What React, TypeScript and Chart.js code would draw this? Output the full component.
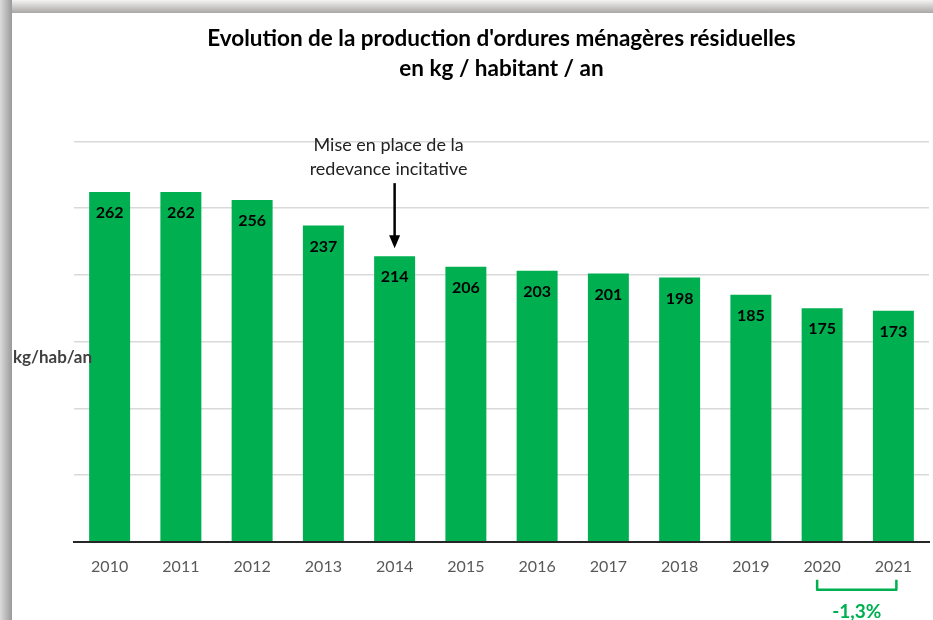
import React, { useEffect, useRef } from "react";
import { Chart, registerables } from "chart.js";

Chart.register(...registerables);

const years = ["2010", "2011", "2012", "2013", "2014", "2015", "2016", "2017", "2018", "2019", "2020", "2021"];
const values = [262, 262, 256, 237, 214, 206, 203, 201, 198, 185, 175, 173];
const titleLines = ["Evolution de la production d'ordures ménagères résiduelles", "en kg / habitant / an"];
const yTitle = "kg/hab/an";
const annotationLines = ["Mise en place de la", "redevance incitative"];
const annotationYear = "2014";
const changeFrom = "2020";
const changeTo = "2021";
const changeLabel = "-1,3%";

const GREEN = "#00b050";
const FONT = "Lato, 'Open Sans', sans-serif";

const overlayPlugin = {
  id: "overlay",
  afterDatasetsDraw(chart: any) {
    const ctx = chart.ctx;
    const meta = chart.getDatasetMeta(0);
    const area = chart.chartArea;
    ctx.save();
    // value labels
    ctx.fillStyle = "#000";
    ctx.font = `bold 16px ${FONT}`;
    ctx.textAlign = "center";
    ctx.textBaseline = "middle";
    meta.data.forEach((bar: any, i: number) => {
      ctx.fillText(String(values[i]), bar.x, bar.y + 21);
    });

    // y title
    ctx.fillStyle = "#404040";
    ctx.font = `bold 17px ${FONT}`;
    ctx.textAlign = "left";
    ctx.fillText(yTitle, 1, area.top + 216);

    // annotation
    const ai = years.indexOf(annotationYear);
    const ab = meta.data[ai];
    const tipY = ab.y - 8;
    const startY = tipY - 65;
    ctx.strokeStyle = "#000";
    ctx.fillStyle = "#000";
    ctx.lineWidth = 2.5;
    ctx.beginPath();
    ctx.moveTo(ab.x, startY);
    ctx.lineTo(ab.x, tipY - 10);
    ctx.stroke();
    ctx.beginPath();
    ctx.moveTo(ab.x - 5.5, tipY - 13);
    ctx.lineTo(ab.x + 5.5, tipY - 13);
    ctx.lineTo(ab.x, tipY);
    ctx.closePath();
    ctx.fill();
    ctx.fillStyle = "#222";
    ctx.font = `18px ${FONT}`;
    ctx.textAlign = "center";
    ctx.fillText(annotationLines[1], ab.x - 6, startY - 14);
    ctx.fillText(annotationLines[0], ab.x - 6, startY - 38);

    // change bracket
    const b1 = meta.data[years.indexOf(changeFrom)];
    const b2 = meta.data[years.indexOf(changeTo)];
    const top = area.bottom + 38;
    const bot = area.bottom + 48;
    const lx = b1.x - 5;
    const rx = b2.x + 3;
    ctx.strokeStyle = GREEN;
    ctx.lineWidth = 2.5;
    ctx.lineJoin = "round";
    ctx.beginPath();
    ctx.moveTo(lx, top);
    ctx.lineTo(lx, bot);
    ctx.lineTo(rx, bot);
    ctx.lineTo(rx, top);
    ctx.stroke();
    ctx.fillStyle = GREEN;
    ctx.font = `bold 19px ${FONT}`;
    ctx.fillText(changeLabel, (lx + rx) / 2, area.bottom + 70);
    ctx.restore();
  },
};

export default function App() {
  const ref = useRef<HTMLCanvasElement>(null);
  useEffect(() => {
    if (!ref.current) return;
    const chart = new Chart(ref.current, {
      type: "bar",
      data: {
        labels: years,
        datasets: [
          {
            data: values,
            backgroundColor: GREEN,
            borderWidth: 0,
            barPercentage: 0.575,
            categoryPercentage: 1,
          },
        ],
      },
      options: {
        responsive: false,
        animation: false,
        devicePixelRatio: 1,
        layout: { padding: { left: 62, right: 4, top: 0, bottom: 29 } },
        plugins: {
          legend: { display: false },
          tooltip: { enabled: false },
          title: {
            display: true,
            text: titleLines,
            color: "#000",
            font: { family: FONT, size: 22.5, weight: "bold", lineHeight: 1.33 },
            padding: { top: 10.5, bottom: 58 },
          },
        },
        scales: {
          x: {
            grid: { display: false, drawTicks: false },
            border: { display: true, color: "#262626", width: 2 },
            ticks: { color: "#595959", font: { family: FONT, size: 16 }, padding: 15 },
          },
          y: {
            min: 0,
            max: 300,
            grid: { color: "#d9d9d9", lineWidth: 1.5, drawTicks: false },
            border: { display: false },
            ticks: { display: false, stepSize: 50 },
          },
        },
      },
      plugins: [overlayPlugin],
    });
    return () => chart.destroy();
  }, []);

  return (
    <div style={{ position: "fixed", left: 0, top: 0, width: 933, height: 620, background: "#eeeeee", overflow: "hidden" }}>
      <div style={{ position: "absolute", left: 0, top: 0, width: 933, height: 13, background: "linear-gradient(to bottom, #f5f3f1, #a9a7a5)" }} />
      <div style={{ position: "absolute", left: 0, top: 0, width: 12, height: 620, background: "linear-gradient(to right, #dcdcdc, #999999)" }} />
      <div style={{ position: "absolute", left: 12, top: 13, width: 921, height: 607, background: "#fff" }}>
        <canvas ref={ref} width={921} height={607} style={{ display: "block" }} />
      </div>
    </div>
  );
}
